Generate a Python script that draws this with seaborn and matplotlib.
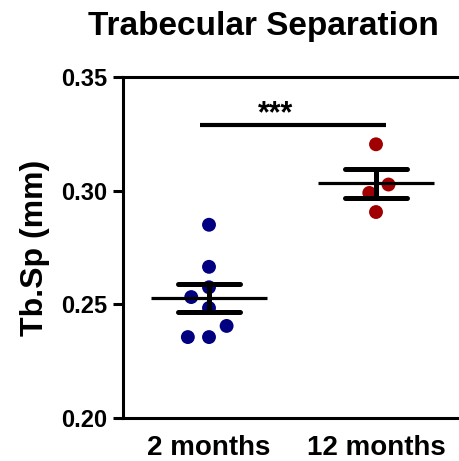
import numpy as np
import pandas as pd
import matplotlib
matplotlib.use("Agg")
import matplotlib.pyplot as plt
import seaborn as sns

# values (mm)
groups = ["2 months", "12 months"]
tbsp_2m = [0.285, 0.2665, 0.2575, 0.2532, 0.2484, 0.2405, 0.2356, 0.2356]
tbsp_12m = [0.3204, 0.3027, 0.2990, 0.2906]
colors = ["#000080", "#A00000"]
y_ticks = [0.20, 0.25, 0.30, 0.35]

df = pd.DataFrame({
    "group": [groups[0]] * len(tbsp_2m) + [groups[1]] * len(tbsp_12m),
    "tbsp": tbsp_2m + tbsp_12m,
})

sns.set_style("ticks")
plt.rcParams["font.family"] = ["Liberation Sans", "DejaVu Sans"]
plt.rcParams["font.weight"] = "bold"
plt.rcParams["text.color"] = "black"
plt.rcParams["axes.labelcolor"] = "black"
plt.rcParams["axes.titlecolor"] = "black"

fig = plt.figure(figsize=(4.6, 4.61), dpi=100)
ax = fig.add_axes([123 / 460, 43 / 461, 337 / 460, 341 / 461])

# invisible edge widens the swarm spacing like the original
sns.swarmplot(data=df, x="group", y="tbsp", hue="group", palette=colors,
              order=groups, size=10, linewidth=4.5, edgecolor="none",
              legend=False, ax=ax, zorder=2)

# mean +/- SEM
sns.pointplot(data=df, x="group", y="tbsp", order=groups, errorbar="se",
              color="black", linestyle="none", marker="_", markersize=84,
              markeredgewidth=2.3, capsize=0.37, err_kws={"linewidth": 3.6},
              ax=ax, zorder=3)

ax.set_xlim(-0.515, 1.503)
ax.set_ylim(0.20, 0.35)
ax.set_yticks(y_ticks)
ax.set_yticklabels([f"{t:.2f}" for t in y_ticks])

# significance bar
ax.plot([-0.054, 1.06], [0.3287, 0.3287], color="black", lw=3, solid_capstyle="butt")
ax.text(0.40, 0.327, "***", ha="center", va="bottom", fontsize=22,
        fontweight="bold", color="black")

ax.set_title("Trabecular Separation", fontsize=24, fontweight="bold", pad=30,
             x=(263 - 123) / 337, color="black")
ax.set_xlabel("")
ax.set_ylabel("Tb.Sp (mm)", fontsize=23, fontweight="bold", labelpad=8, color="black")

for side in ["left", "bottom", "top"]:
    ax.spines[side].set_linewidth(2.2)
    ax.spines[side].set_color("black")
ax.spines["right"].set_visible(False)

ax.tick_params(axis="y", length=7, width=2.2, pad=4, labelsize=17, colors="black")
ax.tick_params(axis="x", length=0, pad=12, labelsize=20, colors="black")
for lab in ax.get_xticklabels() + ax.get_yticklabels():
    lab.set_fontweight("bold")

fig.savefig("out.png", dpi=100)
